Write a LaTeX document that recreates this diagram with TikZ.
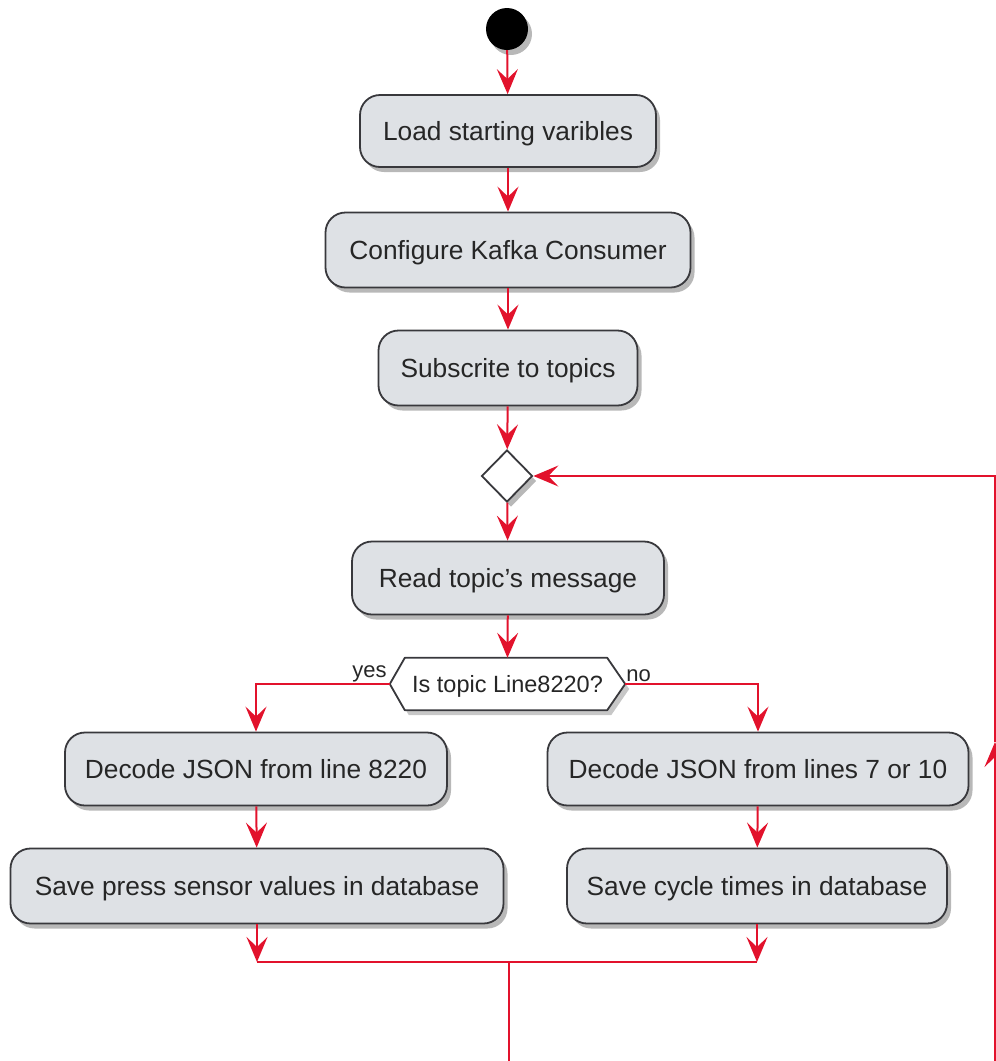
\documentclass[tikz,border=0pt]{standalone}
\usepackage{fontspec}
\setmainfont{Liberation Sans}
\usetikzlibrary{arrows.meta,shadows,shapes.geometric,calc}
\definecolor{flowred}{RGB}{226,18,44}
\definecolor{actfill}{RGB}{222,225,229}
\definecolor{actline}{RGB}{56,56,60}
\begin{document}
\begin{tikzpicture}[x=1pt,y=-1pt,
  softshadow/.style={drop shadow={shadow xshift=4pt,shadow yshift=-5pt,fill=black,opacity=0.28}},
  action/.style={draw=actline,line width=1.8pt,fill=actfill,rounded corners=20pt,
    inner sep=0pt,font=\fontsize{26.3}{30}\selectfont,text=black!85,
    text height=23pt,text depth=4pt,softshadow},
  line/.style={draw=flowred,line width=2pt},
  flow/.style={line,-{Stealth[length=25pt,width=21pt,inset=10pt]}},
  branchlabel/.style={font=\fontsize{22}{26}\selectfont,text=black!85,inner sep=1pt}]
\useasboundingbox (0,0) rectangle (996,1061);
\clip (0,0) rectangle (996,1061);

% start
\node[circle,fill=black,minimum size=42pt,inner sep=0pt,softshadow] (start) at (507,29) {};

% sequential actions
\node[action,minimum width=296pt,minimum height=72pt] (load) at (508,131) {Load starting varibles};
\node[action,minimum width=365pt,minimum height=75pt] (conf) at (508,250) {Configure Kafka Consumer};
\node[action,minimum width=259pt,minimum height=75pt] (subs) at (508,368) {Subscrite to topics};

% loop merge diamond
\node[diamond,draw=actline,line width=1.8pt,fill=white,minimum width=51pt,minimum height=52pt,
  inner sep=0pt,softshadow] (dia) at (507,476) {};

\node[action,minimum width=312pt,minimum height=73pt] (read) at (508,578) {Read topic's message};

% decision hexagon
\node[minimum width=235pt,minimum height=52pt,inner sep=0pt] (dec) at (507.5,684) {};
\fill[black,opacity=0.22] ($(dec.west)+(4,5)$) -- ($(dec.north west)+(19,5)$) -- ($(dec.north east)+(-14,5)$)
  -- ($(dec.east)+(4,5)$) -- ($(dec.south east)+(-14,5)$) -- ($(dec.south west)+(19,5)$) -- cycle;
\draw[draw=actline,line width=1.8pt,fill=white,line join=round] (dec.west) -- ($(dec.north west)+(15,0)$)
  -- ($(dec.north east)+(-18,0)$) -- (dec.east) -- ($(dec.south east)+(-18,0)$)
  -- ($(dec.south west)+(15,0)$) -- cycle;
\node[font=\fontsize{23.5}{27}\selectfont,text=black!85,text height=20pt,text depth=4pt] at (dec.center) {Is topic Line8220?};

% branches
\node[action,minimum width=382pt,minimum height=73pt] (dl) at (256,769) {Decode JSON from line 8220};
\node[action,minimum width=493pt,minimum height=75pt] (sl) at (257,886) {Save press sensor values in database};
\node[action,minimum width=421pt,minimum height=73pt] (dr) at (758,769) {Decode JSON from lines 7 or 10};
\node[action,minimum width=380pt,minimum height=75pt] (sr) at (757,886) {Save cycle times in database};

% routing points
\coordinate (merge) at (509,962);
\coordinate (loopbl) at (509,1061.5);
\coordinate (loopbr) at (995,1061.5);
\coordinate (loopmid) at (995,742);

% connectors
\draw[flow] (start) -- (load);
\draw[flow] (load) -- (conf);
\draw[flow] (conf) -- (subs);
\draw[flow] (subs) -- (dia);
\draw[flow] (dia) -- (read);
\draw[flow] (read) -- (dec.north);
\draw[flow] (dec.west) -| (dl.north);
\draw[flow] (dec.east) -| (dr.north);
\node[branchlabel,anchor=south east] at ($(dec.west)+(-2,-1)$) {yes};
\node[branchlabel,anchor=south west] at ($(dec.east)+(0,-1)$) {no};
\draw[flow] (dl) -- (sl);
\draw[flow] (dr) -- (sr);
\draw[flow] (sl.south) -- (sl.south |- merge);
\draw[flow] (sr.south) -- (sr.south |- merge);
\draw[line] (sl.south |- merge) -- (sr.south |- merge);
\draw[line] (merge) -- (loopbl) -- (loopbr);
\draw[flow] (loopbr) -- (loopmid);
\draw[flow] (loopmid) -- (loopbr |- dia.east) -- (dia.east);
\end{tikzpicture}
\end{document}
